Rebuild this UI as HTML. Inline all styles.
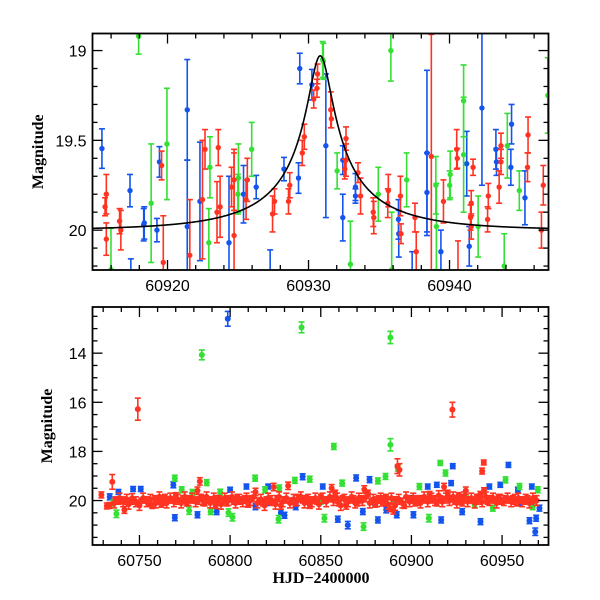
<!DOCTYPE html>
<html><head><meta charset="utf-8"><style>
html,body{margin:0;padding:0;background:#fff;}
svg{display:block;}
.tk{font-family:"Liberation Sans",sans-serif;font-size:16px;fill:#000;}
.ttl{font-family:"Liberation Serif",serif;font-size:16px;font-weight:bold;fill:#000;}
</style></head><body>
<svg id="chart" width="600" height="600" viewBox="0 0 600 600" xmlns="http://www.w3.org/2000/svg"></svg>
<script>
// ---- top panel data: [day, mag, err] ----
const topBlue = [[60915.35,19.546,.11],[60917.34,19.78,.09],[60918.31,19.97,.09],[60918.35,19.96,.09],[60919.25,20.0,.065],[60919.43,19.62,.085],[60921.40,19.33,.28],[60921.40,19.98,.37],[60922.30,19.84,.33],[60924.36,20.07,.37],[60925.39,19.80,.16],[60926.29,19.76,.065],[60928.26,19.66,.065],[60929.29,19.71,.085],[60929.38,19.10,.085],[60930.24,19.19,.085],[60931.23,19.53,.40],[60932.43,19.61,.08],[60932.43,19.93,.13],[60933.33,19.76,.075],[60933.33,19.81,.04],[60936.38,19.94,.11],[60936.40,20.02,.13],[60938.40,19.57,.46],[60938.40,19.79,.22],[60939.39,20.12,.12],[60941.22,19.63,.18],[60941.40,20.09,.11],[60942.30,19.32,.43],[60943.29,19.55,.11],[60943.33,19.62,.075],[60944.40,19.41,.11],[60944.35,19.65,.10],[60945.35,19.82,.15],[60917.4,20.28,.12],[60927.28,20.25,.14],[60937.35,20.25,.13]];
const topGreen = [[60915.99,20.22,.23],[60917.95,18.92,.10],[60918.84,19.85,.33],[60919.96,19.52,.31],[60922.93,20.07,.19],[60923.01,19.65,.17],[60925.03,19.71,.19],[60924.99,19.80,.11],[60925.97,19.55,.15],[60931.0,19.05,.10],[60931.05,19.06,.10],[60932.03,19.67,.10],[60932.97,20.19,.24],[60934.95,19.80,.15],[60935.84,19.0,.17],[60935.9,20.22,.32],[60936.96,19.72,.15],[60939.03,19.75,.16],[60939.07,19.98,.24],[60940.01,19.75,.08],[60940.05,19.69,.13],[60941.0,19.28,.20],[60941.0,19.58,.32],[60942.03,19.98,.17],[60944.1,19.53,.18],[60943.88,20.2,.18],[60944.95,19.78,.11],[60946.97,19.25,.21]];
const topRed = [[60915.66,19.80,.11],[60915.57,19.87,.05],[60915.66,20.05,.09],[60916.6,19.95,.07],[60916.69,20.0,.11],[60919.58,19.64,.08],[60919.70,20.18,.26],[60921.58,20.14,.31],[60922.48,19.83,.33],[60922.66,19.55,.11],[60923.6,19.54,.10],[60923.51,19.90,.17],[60923.73,19.87,.17],[60924.54,19.76,.11],[60924.72,19.72,.17],[60924.72,20.03,.46],[60925.57,19.83,.11],[60925.66,19.72,.12],[60927.45,19.91,.10],[60927.59,19.84,.07],[60928.58,19.84,.07],[60928.67,19.75,.07],[60929.56,19.57,.07],[60929.70,19.48,.07],[60930.37,19.27,.05],[60930.64,19.13,.055],[60930.6,19.21,.05],[60931.58,19.33,.10],[60931.62,19.38,.05],[60932.66,19.49,.065],[60932.66,19.61,.09],[60932.57,19.66,.055],[60933.51,19.68,.055],[60933.69,19.81,.10],[60934.59,19.90,.08],[60934.63,19.93,.09],[60935.66,19.78,.09],[60935.62,19.85,.08],[60936.52,19.81,.11],[60936.56,20.02,.055],[60937.55,19.93,.08],[60937.64,20.12,.11],[60938.71,19.59,.68],[60939.57,19.84,.12],[60940.51,19.55,.11],[60940.55,19.60,.055],[60941.67,19.65,.045],[60941.54,19.85,.07],[60941.49,19.93,.07],[60941.54,19.98,.07],[60942.70,19.94,.07],[60942.75,19.81,.07],[60943.65,19.53,.07],[60943.65,19.62,.07],[60943.52,19.76,.09],[60945.53,19.65,.08],[60945.57,19.47,.10],[60946.65,19.75,.11],[60946.52,20.0,.10],[60940.6,20.25,.19]];
// model params (microlensing fit)
const modelT0 = 60930.83, modelU0 = 0.1, modelTE = 8, modelFs = 0.16, modelBase = 20.0;
const topXTicks = [60920,60930,60940];
const topYTicks = [19,19.5,20];

// ---- bottom panel data ----
const botRed = [[60729,19.77,.12],[60732,20.22,.12],[60733.5,20.2,.12],[60735,19.24,.3],[60737,19.95,.1],[60738.5,20.05,.1],[60740,19.98,.1],[60741.7,20.38,.14],[60745,20.0,.1],[60747,20.05,.1],[60749.1,16.28,.45],[60749,20.1,.12],[60751,20.0,.1],[60753,19.95,.1],[60755,20.1,.1],[60757,20.2,.12],[60758.5,19.9,.1],[60760,20.0,.1],[60762,20.15,.12],[60764,19.85,.1],[60766,19.95,.1],[60768,20.0,.1],[60770,19.8,.12],[60772,20.05,.1],[60774,19.9,.1],[60776,20.1,.12],[60778,19.95,.1],[60780,20.0,.1],[60782,19.6,.15],[60783.3,19.22,.15],[60784,19.85,.1],[60786,20.1,.12],[60788,19.95,.1],[60790,20.0,.1],[60792,20.2,.12],[60794,19.9,.1],[60796,20.0,.1],[60798,20.1,.12],[60800,19.95,.1],[60802,20.05,.1],[60804,19.85,.1],[60806,20.0,.1],[60808,19.9,.1],[60810,20.15,.12],[60812,19.95,.1],[60814,19.65,.15],[60816,20.0,.1],[60818,20.1,.12],[60820,19.95,.1],[60822,20.05,.1],[60824,19.45,.15],[60826,19.9,.1],[60828,20.2,.15],[60830,19.95,.1],[60832,19.4,.15],[60834,20.0,.1],[60836,20.1,.12],[60838,19.85,.1],[60840,20.0,.1],[60842,19.9,.1],[60844,20.2,.12],[60846,19.95,.1],[60848,20.05,.1],[60850,19.85,.1],[60852,20.0,.1],[60854,19.95,.1],[60856,19.5,.15],[60858,19.7,.12],[60860,20.1,.12],[60862,19.9,.1],[60864,20.2,.15],[60866,20.0,.1],[60868,19.9,.1],[60870,20.1,.12],[60872,19.95,.1],[60874,19.55,.15],[60876,19.7,.12],[60878,20.05,.1],[60880,20.15,.12],[60882,19.9,.1],[60884,20.1,.12],[60886,19.85,.1],[60888,20.3,.15],[60890,20.4,.15],[60892.3,18.6,.3],[60893.4,18.75,.25],[60892,19.95,.1],[60894,20.05,.1],[60896,20.2,.12],[60898,19.9,.1],[60900,20.0,.1],[60902,20.1,.12],[60904,19.95,.1],[60906,19.9,.1],[60908,20.0,.1],[60910,19.75,.12],[60912,19.95,.1],[60914,20.1,.12],[60916,19.9,.1],[60918,19.45,.15],[60920,19.7,.12],[60922.6,16.3,.3],[60922,19.9,.1],[60924,20.05,.1],[60926,19.8,.12],[60928,20.1,.12],[60930,19.6,.15],[60932,19.95,.1],[60934,20.0,.1],[60936,19.85,.1],[60938,19.75,.12],[60939.9,18.45,.1],[60939,18.8,.12],[60940,19.6,.12],[60942,20.05,.1],[60944,19.9,.1],[60946,20.0,.1],[60948,19.85,.1],[60950,20.05,.1],[60952,19.95,.1],[60954,20.0,.1],[60956,19.9,.1],[60958,20.1,.12],[60960,19.95,.1],[60962,20.0,.1],[60964,19.9,.1],[60966,20.05,.1],[60968,19.95,.1]];
const botRed2 = [[60736,20.1,.2],[60739,19.9,.2],[60741,20.05,.2],[60743,19.95,.2],[60744,20.15,.2],[60746,19.9,.18],[60748,20.05,.2],[60750,20.2,.2],[60752,19.9,.2],[60754,20.05,.2],[60756,19.95,.2],[60759,20.1,.2],[60761,19.85,.2],[60763,20.0,.2],[60765,20.1,.2],[60767,19.9,.2],[60769,20.05,.2],[60771,19.95,.2],[60773,20.1,.2],[60775,19.85,.2],[60777,20.0,.2],[60779,19.9,.2],[60781,20.05,.2],[60783,19.95,.2],[60785,20.0,.2],[60787,19.85,.2],[60789,20.1,.2],[60791,19.9,.2],[60793,20.0,.2],[60795,20.15,.2],[60797,19.9,.2],[60799,20.0,.2],[60801,19.85,.2],[60803,20.1,.2],[60805,19.95,.2],[60807,20.05,.2],[60809,19.9,.2],[60811,20.0,.2],[60813,19.85,.2],[60815,20.1,.2],[60817,19.95,.2],[60819,20.2,.2],[60821,19.9,.2],[60823,20.0,.2],[60825,20.15,.2],[60827,19.85,.2],[60829,20.05,.2],[60831,19.9,.2],[60833,20.1,.2],[60835,19.95,.2],[60837,20.0,.2],[60839,19.85,.2],[60841,20.1,.2],[60843,19.95,.2],[60845,20.05,.2],[60847,19.9,.2],[60849,20.15,.2],[60851,19.9,.2],[60853,20.05,.2],[60855,19.85,.2],[60857,20.0,.2],[60859,19.9,.2],[60861,20.2,.2],[60863,19.95,.2],[60865,20.05,.2],[60867,19.85,.2],[60869,20.1,.2],[60871,19.9,.2],[60873,20.0,.2],[60875,19.85,.2],[60877,20.1,.2],[60879,19.95,.2],[60881,20.05,.2],[60883,19.9,.2],[60885,20.0,.2],[60887,20.15,.2],[60889,19.9,.2],[60891,20.2,.2],[60893,19.95,.2],[60895,20.1,.2],[60897,19.85,.2],[60899,20.05,.2],[60901,19.9,.2],[60903,20.0,.2],[60905,20.1,.2],[60907,19.85,.2],[60909,20.05,.2],[60911,19.9,.2],[60913,20.0,.2],[60915,19.8,.2],[60917,20.05,.2],[60919,19.9,.2],[60921,20.0,.2],[60923,19.85,.2],[60925,20.1,.2],[60927,19.95,.2],[60929,19.85,.2],[60931,20.05,.2],[60933,19.9,.2],[60935,20.1,.2],[60937,19.95,.2],[60939,20.05,.2],[60941,19.85,.2],[60943,20.0,.2],[60945,19.9,.2],[60947,20.1,.2],[60949,19.95,.2],[60951,20.0,.2],[60953,19.9,.2],[60955,20.05,.2],[60957,19.95,.2],[60959,19.9,.2],[60961,20.05,.2],[60963,19.95,.2],[60965,20.1,.2],[60967,19.9,.2],[60969,20.0,.2]];
const botBlue = [[60733.6,19.85,.12],[60738.4,19.65,.1],[60746.5,19.53,.1],[60750.7,19.53,.1],[60769.5,20.7,.12],[60768.7,19.36,.12],[60782,20.58,.12],[60792.6,20.45,.12],[60798.7,12.6,.3],[60800,19.56,.1],[60809,19.43,.1],[60814,20.25,.12],[60821,19.43,.1],[60828,20.5,.12],[60830,20.6,.12],[60836.2,20.25,.12],[60840,19.03,.12],[60851.1,19.43,.1],[60859.4,20.76,.12],[60864.9,21.0,.15],[60869.5,19.08,.12],[60873.2,20.45,.12],[60876.9,19.15,.12],[60881.5,20.79,.12],[60886.1,20.38,.12],[60890.6,19.97,.12],[60891.9,20.58,.12],[60901.1,20.58,.12],[60909,19.43,.1],[60914,19.36,.1],[60916.4,20.79,.12],[60921.9,19.29,.1],[60922.8,18.6,.1],[60928,20.45,.12],[60938.1,20.86,.12],[60943,19.43,.1],[60949,19.36,.1],[60953.5,18.55,.1],[60958.7,19.56,.1],[60965.1,20.82,.12],[60966.4,19.43,.1],[60968.3,21.27,.15],[60968.8,20.72,.12],[60970.6,20.31,.12],[60760,20.05,.1],[60790,19.95,.1],[60820,20.1,.1],[60845,20.0,.1],[60880,20.1,.1],[60900,19.9,.1],[60925,20.05,.1],[60950,20.0,.1],[60960,20.1,.1]];
const botGreen = [[60737.3,20.54,.15],[60735.5,20.1,.12],[60769.5,19.09,.12],[60773.3,19.56,.12],[60777.4,20.41,.15],[60779.2,19.67,.12],[60784.4,14.07,.2],[60787.1,19.27,.12],[60789.3,20.45,.12],[60794.5,19.66,.12],[60799.1,20.49,.15],[60801.3,20.68,.15],[60813.8,19.09,.12],[60819.3,19.56,.12],[60826.7,20.76,.15],[60827.1,19.49,.12],[60835.7,19.18,.12],[60839.4,12.95,.22],[60843.9,19.13,.12],[60852,20.72,.15],[60857.2,17.8,.12],[60861.8,19.29,.12],[60873.6,21.06,.15],[60881.5,19.2,.12],[60885.7,19.02,.12],[60888.4,13.36,.25],[60888.4,17.73,.25],[60892.5,18.68,.12],[60904.4,19.43,.12],[60909.6,20.72,.15],[60915.9,18.47,.1],[60918.8,18.88,.12],[60934.8,20.18,.12],[60944.9,20.31,.12],[60951.9,19.16,.12],[60959.6,19.43,.12],[60966.9,20.25,.12],[60969.7,19.56,.12],[60755,20.1,.1],[60810,19.95,.1],[60850,20.05,.1],[60890,20.0,.1],[60930,19.9,.1]];
const botXTicks = [60750,60800,60850,60900,60950];
const botYTicks = [14,16,18,20];

const NS = "http://www.w3.org/2000/svg";
const svg = document.getElementById('chart');
const COL = {red:'#ff3322', blue:'#1454ee', green:'#33e033'};

function mk(tag, attrs, parent){
  const e = document.createElementNS(NS, tag);
  for (const k in attrs) e.setAttribute(k, attrs[k]);
  (parent||svg).appendChild(e);
  return e;
}

function panel(cfg){
  const g = mk('g', {});
  
  
  const xs = d => cfg.L + (d - cfg.x0) / (cfg.x1 - cfg.x0) * (cfg.R - cfg.L);
  const ys = m => cfg.T + (m - cfg.y0) / (cfg.y1 - cfg.y0) * (cfg.B - cfg.T);
  const cid = 'clip-' + cfg.name;
  const cp = mk('clipPath', {id: cid}, g);
  mk('rect', {x: cfg.L, y: cfg.T, width: cfg.R - cfg.L, height: cfg.B - cfg.T}, cp);
  const pg = mk('g', {'clip-path': 'url(#' + cid + ')'}, g);
  
  
  for (const s of cfg.series){
    const sg = mk('g', {}, pg);
    
    
    for (const p of s.data){
      const x = xs(p[0]), y = ys(p[1]), yt = ys(p[1] - p[2]), yb = ys(p[1] + p[2]);
      const pt = mk('g', {stroke: COL[s.name], fill: COL[s.name], 'stroke-width': 1.6}, sg);
      
      
      mk('line', {x1: x, x2: x, y1: yt, y2: yb}, pt);
      mk('line', {x1: x - 3, x2: x + 3, y1: yt, y2: yt}, pt);
      mk('line', {x1: x - 3, x2: x + 3, y1: yb, y2: yb}, pt);
      mk('circle', {cx: x, cy: y, r: cfg.r, stroke: 'none'}, pt);
    }
  }
  if (cfg.model){
    let d = '';
    for (let i = 0; i <= 600; i++){
      const t = cfg.x0 + (cfg.x1 - cfg.x0) * i / 600;
      const u = Math.sqrt(modelU0 * modelU0 + Math.pow((t - modelT0) / modelTE, 2));
      const A = (u * u + 2) / (u * Math.sqrt(u * u + 4));
      const m = modelBase - 2.5 * Math.log10(modelFs * A + 1 - modelFs);
      d += (i ? 'L' : 'M') + xs(t).toFixed(2) + ',' + ys(m).toFixed(2);
    }
    const ml = mk('path', {d: d, fill: 'none', stroke: '#000', 'stroke-width': 1.6}, pg);
    
    
  }
  const fr = mk('rect', {x: cfg.L, y: cfg.T, width: cfg.R - cfg.L, height: cfg.B - cfg.T, fill: 'none', stroke: '#000', 'stroke-width': 1.8}, g);
  
  
  const tg = mk('g', {stroke: '#000', 'stroke-width': 1.3}, g);
  
  
  const eps = 1e-6;
  for (let v = Math.ceil(cfg.x0 / cfg.xMinor) * cfg.xMinor; v <= cfg.x1; v += cfg.xMinor){
    const major = Math.abs(v / cfg.xMajor - Math.round(v / cfg.xMajor)) < eps;
    const len = major ? 10 : 5, x = xs(v);
    mk('line', {x1: x, x2: x, y1: cfg.B, y2: cfg.B - len}, tg);
    mk('line', {x1: x, x2: x, y1: cfg.T, y2: cfg.T + len}, tg);
  }
  for (let k = Math.ceil(cfg.y0 / cfg.yMinor - eps); k * cfg.yMinor <= cfg.y1 + eps; k++){
    const v = k * cfg.yMinor;
    const major = Math.abs(v / cfg.yMajor - Math.round(v / cfg.yMajor)) < eps;
    const len = major ? 10 : 5, y = ys(v);
    mk('line', {x1: cfg.L, x2: cfg.L + len, y1: y, y2: y}, tg);
    mk('line', {x1: cfg.R, x2: cfg.R - len, y1: y, y2: y}, tg);
  }
  for (const v of cfg.xTicks){
    const t = mk('text', {x: xs(v), y: cfg.B + 21, 'text-anchor': 'middle', class: 'tk'}, g);
    
    
    t.textContent = v;
  }
  for (const v of cfg.yTicks){
    const t = mk('text', {x: cfg.L - 6, y: ys(v) + 6, 'text-anchor': 'end', class: 'tk'}, g);
    
    
    t.textContent = v;
  }
  const yl = mk('text', {x: 0, y: 0, 'text-anchor': 'middle', class: 'ttl', transform: 'translate(' + cfg.ytx + ',' + ((cfg.T + cfg.B) / 2) + ') rotate(-90)'}, g);
  
  
  yl.textContent = 'Magnitude';
}

panel({name: 'top-panel', L: 92.5, R: 548.5, T: 33.5, B: 270, x0: 60914.68, x1: 60947.02, y0: 18.905, y1: 20.222,
  xMajor: 10, xMinor: 2, yMajor: 0.5, yMinor: 0.1, xTicks: topXTicks, yTicks: topYTicks, ytx: 43, r: 2.7,
  series: [{name: 'blue', data: topBlue}, {name: 'green', data: topGreen}, {name: 'red', data: topRed}], model: true});
panel({name: 'bottom-panel', L: 92.5, R: 548.5, T: 307, B: 545, x0: 60724.1, x1: 60975.6, y0: 12.12, y1: 21.81,
  xMajor: 50, xMinor: 10, yMajor: 2, yMinor: 0.5, xTicks: botXTicks, yTicks: botYTicks, ytx: 52, r: 3,
  series: [{name: 'blue', data: botBlue}, {name: 'green', data: botGreen}, {name: 'red', data: botRed2}, {name: 'red', data: botRed}], model: false});

const xl = mk('text', {x: 321, y: 583, 'text-anchor': 'middle', class: 'ttl'});


xl.textContent = 'HJD\u22122400000';
</script>
</body></html>
